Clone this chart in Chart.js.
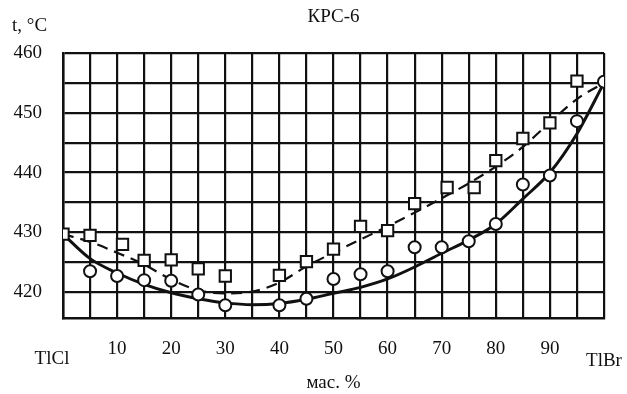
<!DOCTYPE html>
<html>
<head>
<meta charset="utf-8">
<script src="https://cdn.jsdelivr.net/npm/chart.js@4/dist/chart.umd.min.js"></script>
<style>
html,body{margin:0;padding:0;background:#fff;}
#wrap{width:627px;height:394px;position:relative;}
</style>
</head>
<body>
<div id="wrap"><canvas id="c" width="627" height="394"></canvas></div>
<script>
// ---- data ----
const chartTitle = 'КРС-6';
const yAxisLabel = 't, °C';
const xAxisLabel = 'мас. %';
const leftEndLabel = 'TlCl';
const rightEndLabel = 'TlBr';
const xTickLabels = [10, 20, 30, 40, 50, 60, 70, 80, 90];
const yTickLabels = [420, 430, 440, 450, 460];

// squares (experimental, upper series)
const squareX = [0, 5, 11, 15, 20, 25, 30, 40, 45, 50, 55, 60, 65, 71, 76, 80, 85, 90, 95];
const squareT = [429.7, 429.5, 428.0, 425.3, 425.4, 423.9, 422.7, 422.8, 425.1, 427.2, 431.0, 430.3, 434.8, 437.5, 437.5, 442.0, 445.7, 448.3, 455.3];

// circles (experimental, lower series)
const circleX = [5, 10, 15, 20, 25, 30, 40, 45, 50, 55, 60, 65, 70, 75, 80, 85, 90, 95, 100];
const circleT = [423.5, 422.7, 422.0, 421.9, 419.6, 417.8, 417.8, 418.9, 422.2, 423.0, 423.5, 427.5, 427.5, 428.5, 431.4, 438.0, 439.5, 448.6, 455.2];

// solid fitted curve
const solidX = [0, 5, 10, 15, 20, 25, 30, 35, 40, 45, 50, 55, 60, 65, 70, 75, 80, 85, 90, 95, 100];
const solidT = [429.7, 425.6, 423.2, 421.3, 419.9, 418.9, 418.2, 417.9, 418.1, 418.8, 419.8, 420.8, 422.2, 424.2, 426.5, 428.7, 431.4, 435.6, 440.0, 446.5, 455.0];

// dashed fitted curve
const dashX = [0, 5, 10, 15, 20, 25, 30, 35, 40, 45, 50, 55, 60, 65, 70, 75, 80, 85, 90, 95, 100];
const dashT = [429.7, 428.4, 426.6, 424.6, 422.1, 420.3, 419.8, 420.1, 421.6, 424.3, 426.6, 428.8, 431.0, 433.3, 435.7, 438.2, 441.0, 444.3, 448.4, 452.3, 455.0];

const toXY = (xs, ys) => xs.map((x, i) => ({x: x, y: ys[i]}));

const FONT = '"Liberation Serif", "DejaVu Serif", serif';
const INK = '#111';

const extraText = {
  id: 'extraText',
  beforeDraw(chart) {
    const ctx = chart.ctx;
    ctx.save();
    ctx.fillStyle = '#fff';
    ctx.fillRect(0, 0, chart.width, chart.height);
    ctx.restore();
  },
  afterDraw(chart) {
    const ctx = chart.ctx;
    const xs = chart.scales.x;
    ctx.save();
    ctx.fillStyle = INK;
    ctx.font = '19px ' + FONT;
    ctx.textBaseline = 'middle';
    ctx.textAlign = 'center';
    ctx.fillText(chartTitle, xs.getPixelForValue(50), 17);
    ctx.textAlign = 'left';
    ctx.fillText(yAxisLabel, 12, 26);
    ctx.textAlign = 'center';
    ctx.fillText(leftEndLabel, xs.getPixelForValue(0) - 11, 359);
    ctx.fillText(rightEndLabel, xs.getPixelForValue(100), 361);
    ctx.restore();
  }
};

new Chart(document.getElementById('c'), {
  type: 'scatter',
  data: {
    datasets: [
      {
        label: 'squares',
        data: toXY(squareX, squareT),
        pointStyle: 'rect',
        pointRadius: 8,
        pointBackgroundColor: '#fff',
        pointBorderColor: INK,
        pointBorderWidth: 2,
        showLine: false,
        order: 0
      },
      {
        label: 'circles',
        data: toXY(circleX, circleT),
        pointStyle: 'circle',
        pointRadius: 6,
        pointBackgroundColor: '#fff',
        pointBorderColor: INK,
        pointBorderWidth: 2,
        showLine: false,
        order: 0
      },
      {
        label: 'solid',
        data: toXY(solidX, solidT),
        showLine: true,
        borderColor: INK,
        borderWidth: 3,
        pointRadius: 0,
        cubicInterpolationMode: 'monotone',
        fill: false,
        order: 1
      },
      {
        label: 'dashed',
        data: toXY(dashX, dashT),
        showLine: true,
        borderColor: INK,
        borderWidth: 2.2,
        borderDash: [11, 7],
        pointRadius: 0,
        cubicInterpolationMode: 'monotone',
        fill: false,
        order: 1
      }
    ]
  },
  options: {
    responsive: false,
    animation: false,
    devicePixelRatio: 1,
    layout: { padding: { top: 53, right: 23, left: 0, bottom: 0 } },
    plugins: {
      legend: { display: false },
      tooltip: { enabled: false },
      title: { display: false }
    },
    scales: {
      x: {
        type: 'linear',
        min: 0,
        max: 100,
        afterFit(s) { s.height = 76; },
        afterBuildTicks(s) {
          const t = [];
          for (let v = 0; v <= 100; v += 5) t.push({value: v});
          s.ticks = t;
        },
        ticks: {
          color: INK,
          font: { family: FONT, size: 19 },
          padding: 20,
          maxRotation: 0,
          autoSkip: false,
          callback: (v) => xTickLabels.includes(v) ? String(v) : ''
        },
        grid: { color: INK, lineWidth: 2.2, drawTicks: false },
        border: { color: INK, width: 2.5 },
        title: {
          display: true,
          text: xAxisLabel,
          color: INK,
          font: { family: FONT, size: 19 },
          padding: { top: 0, bottom: 0 }
        }
      },
      y: {
        type: 'linear',
        min: 415.67,
        max: 460,
        afterFit(s) { s.width = 63; },
        afterBuildTicks(s) {
          const t = [];
          for (let v = 420; v <= 460; v += 5) t.push({value: v});
          s.ticks = t;
        },
        ticks: {
          color: INK,
          font: { family: FONT, size: 19 },
          padding: 21,
          autoSkip: false,
          callback: (v) => yTickLabels.includes(v) ? String(v) : ''
        },
        grid: { color: INK, lineWidth: 2.2, drawTicks: false },
        border: { color: INK, width: 2.5 }
      }
    }
  },
  plugins: [extraText]
});
</script>
</body>
</html>
